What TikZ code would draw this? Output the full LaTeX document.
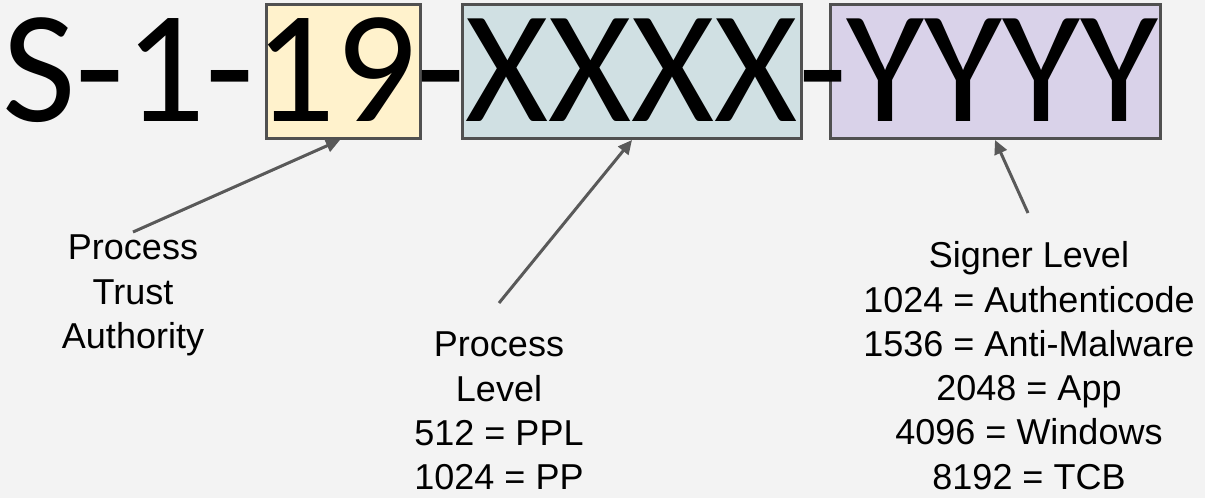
\documentclass[tikz,border=0pt]{standalone}
\usepackage{fontspec}
\setmainfont{Liberation Sans}
\newfontfamily\sidfont[Kerning=Off]{Carlito}
\usetikzlibrary{arrows.meta}
\definecolor{bg}{HTML}{F3F3F3}
\definecolor{framegray}{HTML}{505050}
\definecolor{arrowgray}{HTML}{595959}
\definecolor{authfill}{HTML}{FFF2CC}
\definecolor{levelfill}{HTML}{D0E0E3}
\definecolor{signfill}{HTML}{D9D2E9}
\begin{document}
\begin{tikzpicture}[x=1pt,y=-1pt,
  field/.style={rectangle, draw=framegray, line width=3pt, minimum height=134pt, inner sep=0pt},
  sidtext/.style={font=\sidfont\fontsize{160}{160}\selectfont, inner sep=0pt, anchor=base west},
  caption/.style={font=\fontsize{36}{44.3}\selectfont, align=center, inner sep=0pt, anchor=north},
  pointer/.style={draw=arrowgray, line width=3pt, -{Triangle[length=14pt,width=13pt]}}]

% canvas
\fill[bg] (0,0) rectangle (1205,498);

% highlighted fields of the SID
\node[field, fill=authfill, minimum width=154pt] (auth) at (343.5,71.5) {};
\node[field, fill=levelfill, minimum width=339pt] (level) at (632,71.5) {};
\node[field, fill=signfill, minimum width=330pt] (signer) at (995.5,71.5) {};

% the SID string on top of the fields
\node[sidtext] (sid) at (2,121) {S-1-19-XXXX-YYYY};

% explanations
\node[caption] (pta) at (133,235) {Process\\Trust\\Authority};
\node[caption] (pl) at (499,332) {Process\\Level\\512 = PPL\\1024 = PP};
\node[caption] (sl) at (1029,241.5) {Signer Level\\1024 = Authenticode\\1536 = Anti-Malware\\2048 = App\\4096 = Windows\\8192 = TCB};

% pointers
\draw[pointer] ([yshift=3pt]pta.north) -- ([xshift=-3.5pt]auth.south);
\draw[pointer] ([yshift=29pt]pl.north) -- (level.south);
\draw[pointer] ([xshift=-1pt,yshift=28.5pt]sl.north) -- ([xshift=-0.5pt]signer.south);
\end{tikzpicture}
\end{document}
